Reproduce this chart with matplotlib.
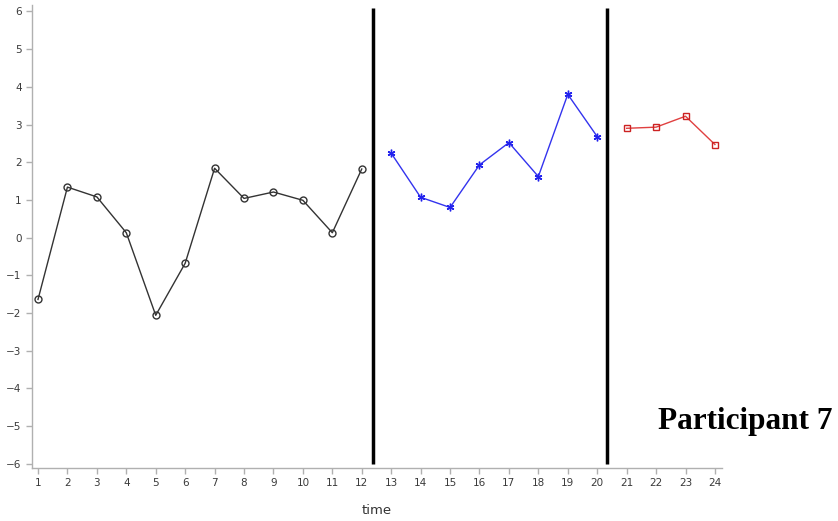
import matplotlib.pyplot as plt

# phase A / B / C observations for one participant
time_a = [1, 2, 3, 4, 5, 6, 7, 8, 9, 10, 11, 12]
score_a = [-1.64, 1.34, 1.08, 0.13, -2.06, -0.68, 1.84, 1.04, 1.21, 0.99, 0.13, 1.82]
time_b = [13, 14, 15, 16, 17, 18, 19, 20]
score_b = [2.24, 1.07, 0.80, 1.93, 2.52, 1.62, 3.80, 2.68]
time_c = [21, 22, 23, 24]
score_c = [2.90, 2.93, 3.22, 2.47]
phase_breaks = [12.37, 20.33]

x_ticks = list(range(1, 25))
y_ticks = list(range(-6, 7))

fig = plt.figure(figsize=(8.38, 5.21), dpi=100)
ax = fig.add_axes([32 / 838, 1 - 468 / 521, (722 - 32) / 838, (468 - 5) / 521])

ax.plot(time_a, score_a, color='#333333', lw=1, marker='o', ms=5,
        mfc='none', mec='#333333', mew=1)
ax.plot(time_b, score_b, color='#3333ee', lw=1, marker=(6, 2, 0), ms=5.5,
        mec='#2222ee', mew=1)
ax.plot(time_c, score_c, color='#e04040', lw=1, marker='s', ms=5,
        mfc='none', mec='#cc2222', mew=1)

for xb in phase_breaks:
    ax.plot([xb, xb], [-6.0, 6.09], color='black', lw=2.5, solid_capstyle='butt')

ax.set_xlim(0.796, 24.24)
ax.set_ylim(-6.11, 6.17)
ax.set_xticks(x_ticks)
ax.set_yticks(y_ticks)
ax.set_yticklabels([f'\u2212{-v}' if v < 0 else str(v) for v in y_ticks])

for side in ['top', 'right']:
    ax.spines[side].set_visible(False)
for side in ['left', 'bottom']:
    ax.spines[side].set_color('#b0b0b0')
    ax.spines[side].set_linewidth(1)
ax.tick_params(colors='#b0b0b0', labelcolor='#3a3a3a', labelsize=7.5,
               length=4, width=1)

ax.set_xlabel('time', fontsize=9.5, color='#333333', labelpad=11)

fig.text(832 / 838, 1 - 421 / 521, 'Participant 7', ha='right', va='center',
         family='Liberation Serif', weight='bold', fontsize=22.5)

fig.savefig('out.png', dpi=100)
